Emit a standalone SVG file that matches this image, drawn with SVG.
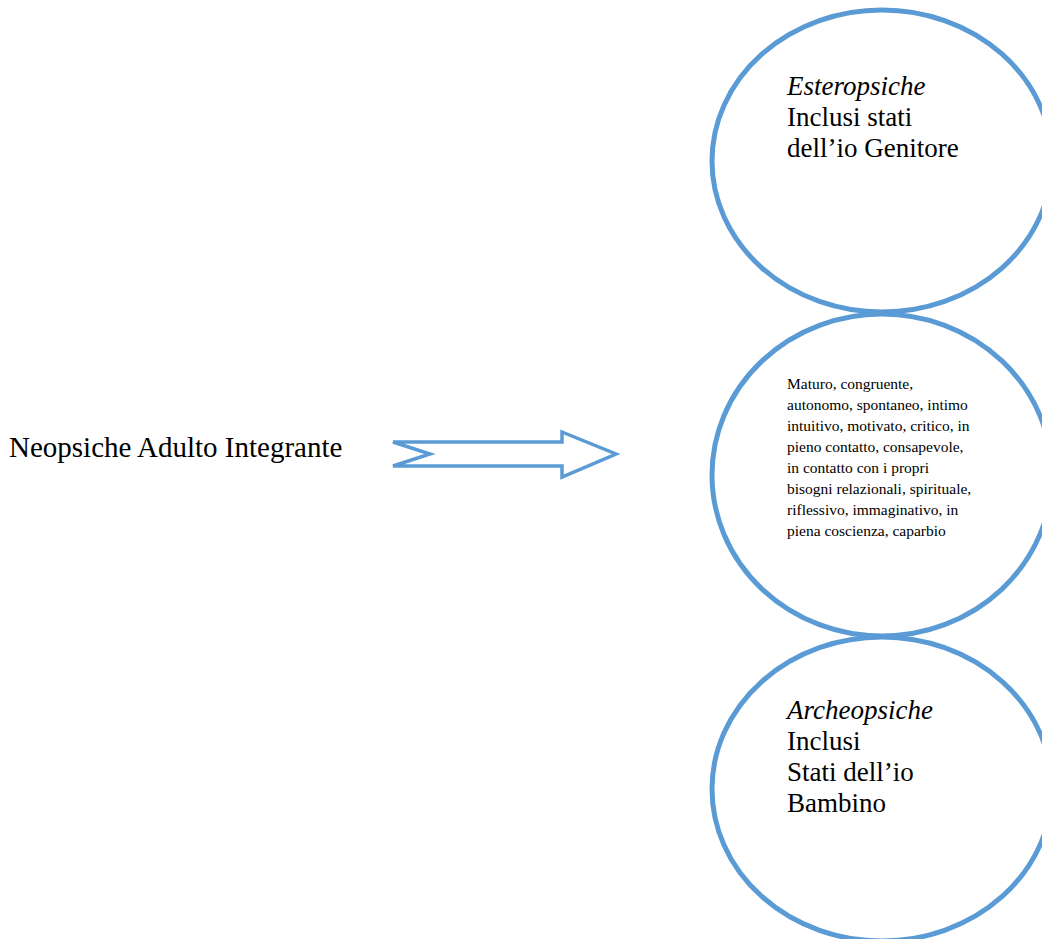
<svg xmlns="http://www.w3.org/2000/svg" width="1042" height="939" viewBox="0 0 1042 939">
<style>
.node{fill:#fff;stroke:#5B9BD5;stroke-width:5}
.t{font-family:"Liberation Serif","Times New Roman",serif;fill:#000}
.lbl{font-size:29px}
.big{font-size:27px}
.small{font-size:15.5px}
.i{font-style:italic}
.arrow{fill:#fff;stroke:#5B9BD5;stroke-width:3.5;stroke-linejoin:miter}
</style>
<rect width="1042" height="939" fill="#fff"/>
<g id="label-neopsiche">
<text class="t lbl" x="9" y="457">Neopsiche Adulto Integrante</text>
</g>
<g id="connectors">
<polygon class="arrow" points="393,442 562,442 562,432 616,454 562,477 562,466 393,466 430,454"/>
</g>
<g id="node-esteropsiche">
<ellipse class="node" cx="882" cy="161" rx="170" ry="151"/>
<text class="t big" x="787"><tspan class="i" x="787" y="95">Esteropsiche</tspan><tspan x="787" y="126">Inclusi stati</tspan><tspan x="787" y="157">dell’io Genitore</tspan></text>
</g>
<g id="node-neopsiche">
<ellipse class="node" cx="882" cy="475" rx="170" ry="161"/>
<text class="t small" x="787"><tspan x="787" y="389">Maturo, congruente,</tspan><tspan x="787" y="410">autonomo, spontaneo, intimo</tspan><tspan x="787" y="431">intuitivo, motivato, critico, in</tspan><tspan x="787" y="452">pieno contatto, consapevole,</tspan><tspan x="787" y="473">in contatto con i propri</tspan><tspan x="787" y="494">bisogni relazionali, spirituale,</tspan><tspan x="787" y="515">riflessivo, immaginativo, in</tspan><tspan x="787" y="536">piena coscienza, caparbio</tspan></text>
</g>
<g id="node-archeopsiche">
<ellipse class="node" cx="882" cy="789" rx="170" ry="152"/>
<text class="t big" x="787"><tspan class="i" x="787" y="719">Archeopsiche</tspan><tspan x="787" y="750">Inclusi</tspan><tspan x="787" y="781">Stati dell’io</tspan><tspan x="787" y="812">Bambino</tspan></text>
</g>
</svg>
